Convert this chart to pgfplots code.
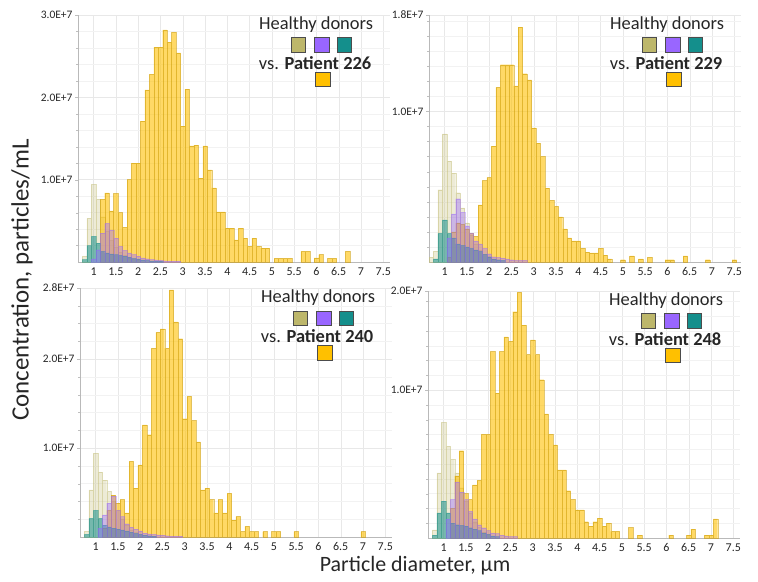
\documentclass[border=0pt]{standalone}
\usepackage{fontspec}
\setmainfont{Carlito}
\usepackage{pgfplots}
\pgfplotsset{compat=1.18}

\definecolor{donorkhaki}{HTML}{BDB76B}
\definecolor{donorpurple}{HTML}{9966FF}
\definecolor{donorteal}{HTML}{148F8C}
\definecolor{patient}{HTML}{FFC000}
\definecolor{txt}{HTML}{262626}

\pgfplotsset{
  panel/.style={
    scale only axis, width=312bp, height=247bp,
    xmin=0.65, xmax=7.65, ymin=0,
    axis lines=left, axis line style={gray!55,-},
    xtick={1,1.5,...,7.5}, xtick style={draw=none},
    tick align=outside, ytick style={gray!50},
    major tick length=3bp, minor tick length=2bp,
    grid=both, major grid style={gray!18, line width=0.4pt}, minor grid style={gray!10, line width=0.4pt},
    ybar, bar width=0.1, bar shift=0pt,
    /pgf/number format/assume math mode=true,
    xticklabel style={font=\fontsize{12}{13}\selectfont, text=txt, yshift=1bp},
    yticklabel style={font=\fontsize{11.5}{12}\selectfont, text=txt, xshift=1bp},
    clip=false,
  },
  khakibar/.style={fill=donorkhaki, fill opacity=0.28, draw=donorkhaki!85!white, draw opacity=0.55, line width=0.35pt},
  patientbar/.style={fill=patient, fill opacity=0.6, draw=patient!80!black, draw opacity=0.55, line width=0.35pt},
  tealbar/.style={fill=donorteal, fill opacity=0.55, draw=donorteal, draw opacity=0.4, line width=0.3pt},
  purplebar/.style={fill=donorpurple, fill opacity=0.4, draw=donorpurple, draw opacity=0.4, line width=0.3pt},
}

% legend block in the top right corner of a panel
\newcommand{\panellegend}[1]{%
  \node[font=\fontsize{18.5}{20}\selectfont, text=txt] at (axis description cs:0.763,0.962) {Healthy donors};
  \node[draw=black!70, line width=0.7pt, fill=donorkhaki, minimum size=14.5bp, inner sep=0pt] at (axis description cs:0.707,0.879) {};
  \node[draw=black!70, line width=0.7pt, fill=donorpurple, minimum size=14.5bp, inner sep=0pt] at (axis description cs:0.782,0.879) {};
  \node[draw=black!70, line width=0.7pt, fill=donorteal, minimum size=14.5bp, inner sep=0pt] at (axis description cs:0.853,0.879) {};
  \node[font=\fontsize{18.5}{20}\selectfont, text=txt] at (axis description cs:0.760,0.806) {vs. \textbf{Patient #1}};
  \node[draw=black!70, line width=0.7pt, fill=patient, minimum size=14.5bp, inner sep=0pt] at (axis description cs:0.784,0.739) {};
}

\begin{document}
\begin{tikzpicture}
\useasboundingbox (0,0) rectangle (758bp,-582bp);

% ---------- Patient 226 ----------
\begin{axis}[panel, at={(78bp,-262bp)}, anchor=south west,
  ymax=30, ytick={10,20,30}, yticklabels={1.0E+7,2.0E+7,3.0E+7},
  minor ytick={2,4,...,28}]
  \addplot[khakibar] coordinates {
    (0.8,0.65) (0.9,5.3) (1.0,9.4) (1.1,7.6) (1.2,5.5) (1.3,3.8) (1.4,2.6)
    (1.5,1.8) (1.6,1.2) (1.7,0.8) (1.8,0.5) (1.9,0.3) (2.0,0.2)};
  \addplot[patientbar] coordinates {
    (1.2,7.6) (1.3,8.4) (1.4,6.2) (1.5,8.3) (1.6,6.0) (1.7,4.2) (1.8,10.0)
    (1.9,12.0) (2.0,12.0) (2.1,17.1) (2.2,20.9) (2.3,22.8) (2.4,26.1) (2.5,26.1)
    (2.6,28.2) (2.7,26.7) (2.8,27.9) (2.9,25.4) (3.0,16.5) (3.1,21.0) (3.2,14.1)
    (3.3,14.2) (3.4,10.2) (3.5,14.1) (3.6,11.2) (3.7,9.0) (3.8,6.1) (3.9,6.1)
    (4.0,4.1) (4.1,4.1) (4.2,2.7) (4.3,4.1) (4.4,2.9) (4.5,1.9) (4.6,2.9)
    (4.7,1.9) (4.8,1.7) (4.9,1.7) (5.1,0.45) (5.2,0.45) (5.3,0.45) (5.4,0.45)
    (5.7,1.3) (5.8,1.3) (6.0,0.5) (6.1,0.9) (6.3,0.45) (6.4,0.45) (6.7,1.3)};
  \addplot[tealbar] coordinates {
    (0.8,0.3) (0.9,2.0) (1.0,3.1) (1.1,2.3) (1.2,1.3) (1.3,1.1) (1.4,1.0)
    (1.5,0.9) (1.6,0.8) (1.7,0.7) (1.8,0.6) (1.9,0.45) (2.0,0.35) (2.1,0.25)
    (2.2,0.2) (2.3,0.15) (2.4,0.1) (2.5,0.1)};
  \addplot[purplebar] coordinates {
    (1.0,0.4) (1.1,1.5) (1.2,3.5) (1.3,4.7) (1.4,3.9) (1.5,2.9) (1.6,1.9)
    (1.7,1.4) (1.8,1.1) (1.9,0.9) (2.0,0.7) (2.1,0.5) (2.2,0.4) (2.3,0.3)
    (2.4,0.25) (2.5,0.2) (2.6,0.15) (2.7,0.1) (2.8,0.1) (2.9,0.1)};
  \panellegend{226}
\end{axis}

% ---------- Patient 229 ----------
\begin{axis}[panel, at={(429bp,-262bp)}, anchor=south west,
  ymax=16.4, ytick={10,16.4}, yticklabels={1.0E+7,1.8E+7},
  minor ytick={1,2,...,16}]
  \addplot[khakibar] coordinates {
    (0.7,0.3) (0.8,0.7) (0.9,4.8) (1.0,8.5) (1.1,6.7) (1.2,5.9) (1.3,4.6)
    (1.4,3.6) (1.5,2.6) (1.6,1.8) (1.7,1.2) (1.8,0.8) (1.9,0.5) (2.0,0.3) (2.1,0.2)};
  \addplot[patientbar] coordinates {
    (1.1,0.3) (1.2,2.0) (1.3,2.6) (1.4,2.5) (1.5,2.2) (1.6,1.9) (1.7,1.7)
    (1.8,3.8) (1.9,5.4) (2.0,5.6) (2.1,7.7) (2.2,11.6) (2.3,13.1) (2.4,13.1)
    (2.5,13.1) (2.6,11.7) (2.7,15.6) (2.8,12.5) (2.9,12.1) (3.0,8.9) (3.1,7.9)
    (3.2,7.0) (3.3,4.9) (3.4,4.1) (3.5,3.7) (3.6,3.0) (3.7,2.2) (3.8,1.6)
    (3.9,1.4) (4.0,1.4) (4.1,0.9) (4.2,0.65) (4.3,0.6) (4.4,0.6) (4.5,0.9)
    (4.6,0.45) (4.7,0.2) (5.0,0.15) (5.2,0.4) (5.4,0.2) (5.6,0.3) (6.0,0.15)
    (6.1,0.15) (6.4,0.4) (6.9,0.15) (7.5,0.15)};
  \addplot[tealbar] coordinates {
    (0.8,0.2) (0.9,1.9) (1.0,2.8) (1.1,1.9) (1.2,1.6) (1.3,1.2) (1.4,1.1)
    (1.5,1.0) (1.6,0.9) (1.7,0.8) (1.8,0.7) (1.9,0.5) (2.0,0.35) (2.1,0.2)
    (2.2,0.15) (2.3,0.1)};
  \addplot[purplebar] coordinates {
    (1.1,1.6) (1.2,3.2) (1.3,4.2) (1.4,3.3) (1.5,2.4) (1.6,1.9) (1.7,1.4)
    (1.8,1.2) (1.9,0.9) (2.0,0.55) (2.1,0.35) (2.2,0.3) (2.3,0.25) (2.4,0.2)
    (2.5,0.15) (2.6,0.1) (2.7,0.1) (2.8,0.1)};
  \panellegend{229}
\end{axis}

% ---------- Patient 240 ----------
\begin{axis}[panel, at={(80bp,-537bp)}, anchor=south west, height=249bp,
  ymax=28, ytick={10,20,28}, yticklabels={1.0E+7,2.0E+7,2.8E+7},
  minor ytick={2,4,...,26}]
  \addplot[khakibar] coordinates {
    (0.8,0.6) (0.9,5.3) (1.0,9.4) (1.1,7.3) (1.2,6.4) (1.3,5.1) (1.4,4.0)
    (1.5,3.0) (1.6,2.0) (1.7,1.3) (1.8,0.8) (1.9,0.5) (2.0,0.3)};
  \addplot[patientbar] coordinates {
    (1.2,1.0) (1.3,3.0) (1.4,4.7) (1.5,3.8) (1.6,4.2) (1.7,2.7) (1.8,8.5)
    (1.9,5.5) (2.0,8.1) (2.1,12.6) (2.2,11.5) (2.3,21.2) (2.4,23.0) (2.5,23.4)
    (2.6,21.2) (2.7,27.8) (2.8,24.2) (2.9,22.3) (3.0,13.3) (3.1,15.8) (3.2,13.1)
    (3.3,10.7) (3.4,5.3) (3.5,5.5) (3.6,4.2) (3.7,2.7) (3.8,4.2) (3.9,2.7)
    (4.0,4.9) (4.1,1.9) (4.2,2.3) (4.3,0.6) (4.4,1.2) (4.5,0.6) (4.6,0.6)
    (4.8,0.6) (5.0,0.6) (5.1,0.6) (5.5,0.6) (7.0,0.6)};
  \addplot[tealbar] coordinates {
    (0.8,0.3) (0.9,2.1) (1.0,3.0) (1.1,2.1) (1.2,1.35) (1.3,1.15) (1.4,1.0)
    (1.5,0.9) (1.6,0.8) (1.7,0.7) (1.8,0.55) (1.9,0.4) (2.0,0.3) (2.1,0.2)
    (2.2,0.15) (2.3,0.1)};
  \addplot[purplebar] coordinates {
    (1.1,1.0) (1.2,2.5) (1.3,3.8) (1.4,4.6) (1.5,3.0) (1.6,2.3) (1.7,1.5)
    (1.8,1.1) (1.9,0.9) (2.0,0.7) (2.1,0.45) (2.2,0.35) (2.3,0.3) (2.4,0.25)
    (2.5,0.2) (2.6,0.15) (2.7,0.1) (2.8,0.1) (2.9,0.1)};
  \panellegend{240}
\end{axis}

% ---------- Patient 248 ----------
\begin{axis}[panel, at={(428bp,-538bp)}, anchor=south west,
  ymax=16.7, ytick={10,16.7}, yticklabels={1.0E+7,2.0E+7},
  minor ytick={1,2,...,16}]
  \addplot[khakibar] coordinates {
    (0.8,0.55) (0.9,4.4) (1.0,7.8) (1.1,6.2) (1.2,5.3) (1.3,4.4) (1.4,3.4)
    (1.5,2.5) (1.6,1.7) (1.7,1.1) (1.8,0.7) (1.9,0.4) (2.0,0.25)};
  \addplot[patientbar] coordinates {
    (1.2,2.0) (1.3,4.2) (1.4,5.9) (1.5,3.0) (1.6,2.6) (1.7,3.6) (1.8,3.9)
    (1.9,7.0) (2.0,7.0) (2.1,12.6) (2.2,9.8) (2.3,12.6) (2.4,13.6) (2.5,13.3)
    (2.6,15.3) (2.7,16.6) (2.8,14.4) (2.9,12.4) (3.0,13.4) (3.1,12.4) (3.2,10.7)
    (3.3,8.4) (3.4,7.0) (3.5,6.3) (3.6,4.6) (3.7,4.6) (3.8,3.2) (3.9,2.6)
    (4.0,1.9) (4.1,1.9) (4.2,1.1) (4.3,0.8) (4.4,1.1) (4.5,1.35) (4.6,0.8)
    (4.7,1.0) (4.8,0.45) (4.9,0.45) (5.2,0.7) (5.4,0.2) (6.1,0.2) (6.5,0.2)
    (6.6,0.6) (6.9,0.2) (7.0,0.2) (7.1,1.3)};
  \addplot[tealbar] coordinates {
    (0.8,0.2) (0.9,1.7) (1.0,2.5) (1.1,1.7) (1.2,1.0) (1.3,0.9) (1.4,0.85)
    (1.5,0.8) (1.6,0.7) (1.7,0.6) (1.8,0.5) (1.9,0.35) (2.0,0.25) (2.1,0.15)
    (2.2,0.1)};
  \addplot[purplebar] coordinates {
    (1.1,1.3) (1.2,2.6) (1.3,3.8) (1.4,3.1) (1.5,2.6) (1.6,1.8) (1.7,1.3)
    (1.8,0.9) (1.9,0.7) (2.0,0.5) (2.1,0.35) (2.2,0.3) (2.3,0.2) (2.4,0.15)
    (2.5,0.1) (2.6,0.1)};
  \panellegend{248}
\end{axis}

\node[rotate=90, font=\fontsize{25}{27}\selectfont, text=txt] at (22bp,-280bp) {Concentration, particles/mL};
\node[font=\fontsize{22}{24}\selectfont, text=txt] at (415bp,-566bp) {Particle diameter, µm};
\end{tikzpicture}
\end{document}
